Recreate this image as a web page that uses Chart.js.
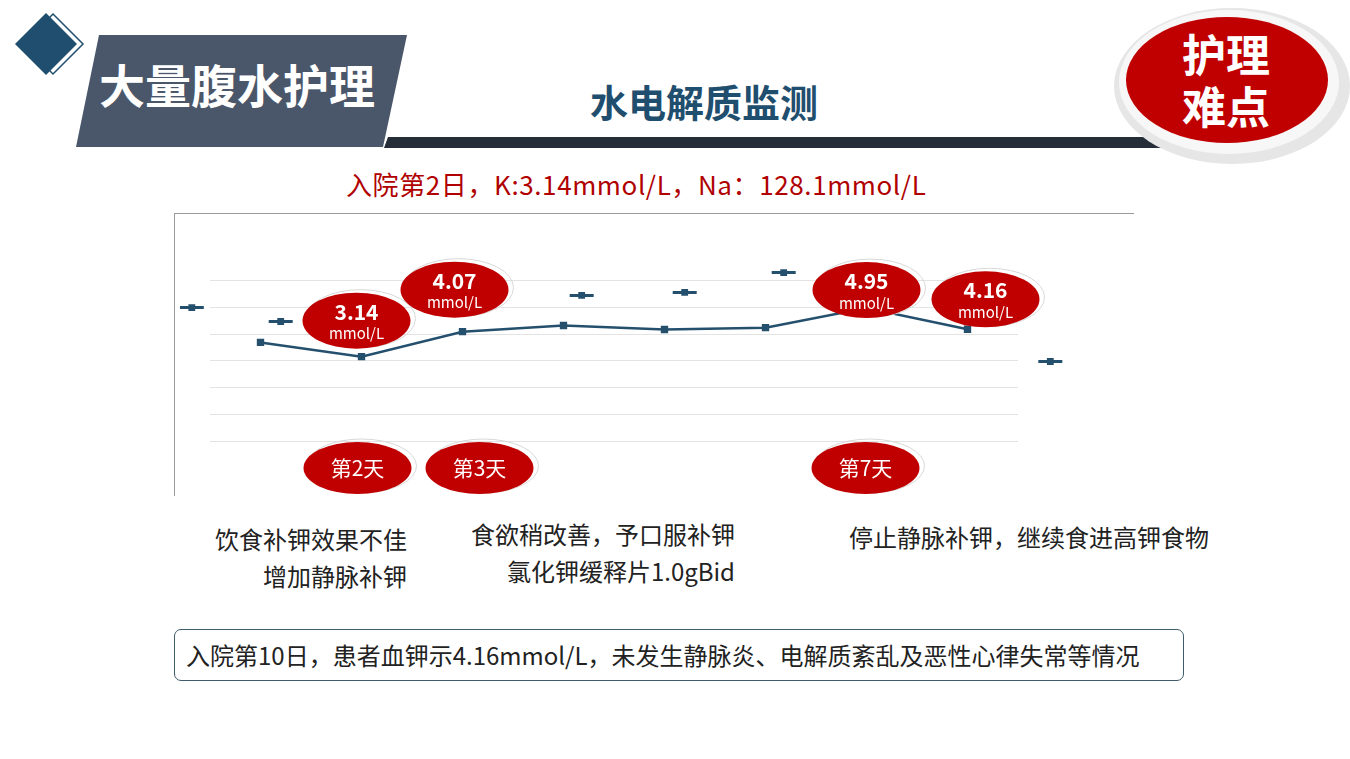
<!DOCTYPE html>
<html>
<head>
<meta charset="utf-8">
<script src="https://cdn.jsdelivr.net/npm/chart.js@4"></script>
<style>
  body { margin: 0; background: #fff; font-family: "Noto Sans CJK SC", "Noto Sans", sans-serif; }
  #slide { position: relative; width: 1350px; height: 759px; overflow: hidden; }
  .abs { position: absolute; white-space: nowrap; }
  #frame { position: absolute; left: 174px; top: 213px; width: 960px; height: 283px;
           border-top: 1px solid #9a9a9a; border-left: 1px solid #9a9a9a; box-sizing: border-box; }
  #chartBox { position: absolute; left: 174px; top: 213px; width: 960px; height: 283px; }
  .note { font-size: 24px; color: #222; line-height: 37px; }
  #summary { position: absolute; left: 174px; top: 629px; width: 1010px; height: 52px; box-sizing: border-box;
             border: 1.5px solid #3f5c6b; border-radius: 7px; font-size: 24px; color: #222;
             padding-left: 11px; line-height: 50px; }
</style>
</head>
<body>
<div id="slide">
  <svg class="abs" style="left:0;top:0" width="1350" height="200">
    <polygon points="53,14 83,44 53,74 23,44" fill="#fff" stroke="#1f4e6e" stroke-width="1.5"/>
    <polygon points="46,13 77,44 46,75 15,44" fill="#1f4e6e"/>
    <polygon points="99,35 407,35 383,147 76,147" fill="#4a5669"/>
    <polygon points="388,137 1170,137 1165,148 384,148" fill="#252d38"/>
    <ellipse cx="1232" cy="86" rx="118" ry="78" fill="#e6e6e6"/>
    <ellipse cx="1229" cy="82" rx="110" ry="72" fill="#f7f7f7"/>
    <ellipse cx="1227" cy="80" rx="101" ry="63" fill="#c00000"/>
  </svg>
  <div class="abs" style="left:99px;top:50px;font-size:46px;font-weight:bold;color:#fff;">大量腹水护理</div>
  <div class="abs" style="left:1182px;top:27px;font-size:44px;font-weight:bold;color:#fff;line-height:52px;">护理<br>难点</div>
  <div class="abs" style="left:590px;top:73px;font-size:38px;font-weight:bold;color:#1f4e6e;">水电解质监测</div>
  <div class="abs" style="left:346px;top:165px;font-size:26px;letter-spacing:0.6px;color:#b00000;">入院第2日，K:3.14mmol/L，Na：128.1mmol/L</div>

  <div id="frame"></div>
  <div id="chartBox"><canvas id="kChart"></canvas></div>

  <div class="abs note" style="left:215px;top:520px;text-align:right;">饮食补钾效果不佳<br>增加静脉补钾</div>
  <div class="abs note" style="left:471px;top:515px;text-align:right;">食欲稍改善，予口服补钾<br>氯化钾缓释片1.0gBid</div>
  <div class="abs note" style="left:849px;top:518px;">停止静脉补钾，继续食进高钾食物</div>
  <div id="summary">入院第10日，患者血钾示4.16mmol/L，未发生静脉炎、电解质紊乱及恶性心律失常等情况</div>
</div>

<script>
// serum potassium by day
const days = [1, 2, 3, 4, 5, 6, 7, 8];
const kValues = [3.67, 3.14, 4.07, 4.30, 4.15, 4.22, 4.95, 4.16];

// loose dash markers (no line)
const dashX = [0.32, 1.2, 4.18, 5.2, 6.18, 8.82];
const dashY = [4.97, 4.45, 5.42, 5.53, 6.27, 2.96];

// gridline levels and their x span
const gridLevels = [0, 1, 2, 3, 4, 5, 6];
const gridSpan = [0.5, 8.5];

// value bubbles and day bubbles, by point index
const valueBubbleIdx = [1, 2, 6, 7];
const dayBubbleIdx = [1, 2, 6];
const dayBubbleText = ["第2天", "第3天", "第7天"];

const lineColor = "#24506e";
const red = "#c00000";

const valueOffsets = [[-5, -36], [-8, -42], [0, -18], [18, -30]];
const dayOffsetsX = [-4, 17, -1];

function ellipse(ctx, x, y, rx, ry) {
  // light rim, then red fill
  ctx.beginPath();
  ctx.ellipse(x + 4, y - 2, rx + 1, ry + 1, 0, 0, Math.PI * 2);
  ctx.strokeStyle = "#d8d8d8";
  ctx.lineWidth = 1;
  ctx.stroke();
  ctx.beginPath();
  ctx.ellipse(x, y, rx, ry, 0, 0, Math.PI * 2);
  ctx.fillStyle = red;
  ctx.fill();
}

// horizontal gridlines only over the day range
const gridLines = {
  id: "gridLines",
  beforeDatasetsDraw(chart) {
    const ctx = chart.ctx;
    const xs = chart.scales.x, ys = chart.scales.y;
    const x0 = xs.getPixelForValue(gridSpan[0]);
    const x1 = xs.getPixelForValue(gridSpan[1]);
    ctx.save();
    ctx.strokeStyle = "#e3e3e3";
    ctx.lineWidth = 1;
    gridLevels.forEach((v) => {
      const y = Math.round(ys.getPixelForValue(v)) + 0.5;
      ctx.beginPath();
      ctx.moveTo(x0, y);
      ctx.lineTo(x1, y);
      ctx.stroke();
    });
    ctx.restore();
  }
};

const bubbles = {
  id: "bubbles",
  afterDatasetsDraw(chart) {
    const ctx = chart.ctx;
    const xs = chart.scales.x, ys = chart.scales.y;
    ctx.save();
    ctx.textAlign = "center";
    ctx.textBaseline = "middle";
    valueBubbleIdx.forEach((i, n) => {
      const px = xs.getPixelForValue(days[i]) + valueOffsets[n][0];
      const py = ys.getPixelForValue(kValues[i]) + valueOffsets[n][1];
      ellipse(ctx, px, py, 54, 28);
      ctx.fillStyle = "#fff";
      ctx.font = "bold 21px 'Noto Sans CJK SC'";
      ctx.fillText(kValues[i].toFixed(2), px, py - 9);
      ctx.font = "15px 'Noto Sans CJK SC'";
      ctx.fillText("mmol/L", px, py + 13);
    });
    dayBubbleIdx.forEach((i, n) => {
      const px = xs.getPixelForValue(days[i]) + dayOffsetsX[n];
      const py = ys.getPixelForValue(0) + 27;
      ellipse(ctx, px, py, 54, 26);
      ctx.fillStyle = "#fff";
      ctx.font = "21px 'Noto Sans CJK SC'";
      ctx.fillText(dayBubbleText[n], px, py);
    });
    ctx.restore();
  }
};

new Chart(document.getElementById("kChart"), {
  type: "line",
  data: {
    datasets: [
      {
        label: "K",
        data: days.map((d, i) => ({ x: d, y: kValues[i] })),
        borderColor: lineColor,
        backgroundColor: lineColor,
        borderWidth: 2.5,
        pointStyle: "rect",
        pointRadius: 5.2,
        pointBorderWidth: 0,
        tension: 0,
      },
      {
        label: "dash",
        data: dashX.map((x, i) => ({ x: x, y: dashY[i] })),
        showLine: false,
        borderColor: lineColor,
        pointStyle: "line",
        pointRadius: 12,
        pointBorderWidth: 3,
      },
      {
        label: "dashCentre",
        data: dashX.map((x, i) => ({ x: x, y: dashY[i] })),
        showLine: false,
        backgroundColor: lineColor,
        pointStyle: "rect",
        pointRadius: 4.8,
        pointBorderWidth: 0,
      },
    ],
  },
  options: {
    responsive: true,
    maintainAspectRatio: false,
    animation: false,
    layout: { autoPadding: false, padding: { left: 5.7, right: 65.5, top: 40, bottom: 55 } },
    plugins: {
      legend: { display: false },
      tooltip: { enabled: false },
    },
    scales: {
      x: {
        type: "linear",
        min: 0.2,
        max: 9,
        display: false,
      },
      y: {
        min: 0,
        max: 7,
        display: false,
      },
    },
  },
  plugins: [gridLines, bubbles],
});
</script>
</body>
</html>
